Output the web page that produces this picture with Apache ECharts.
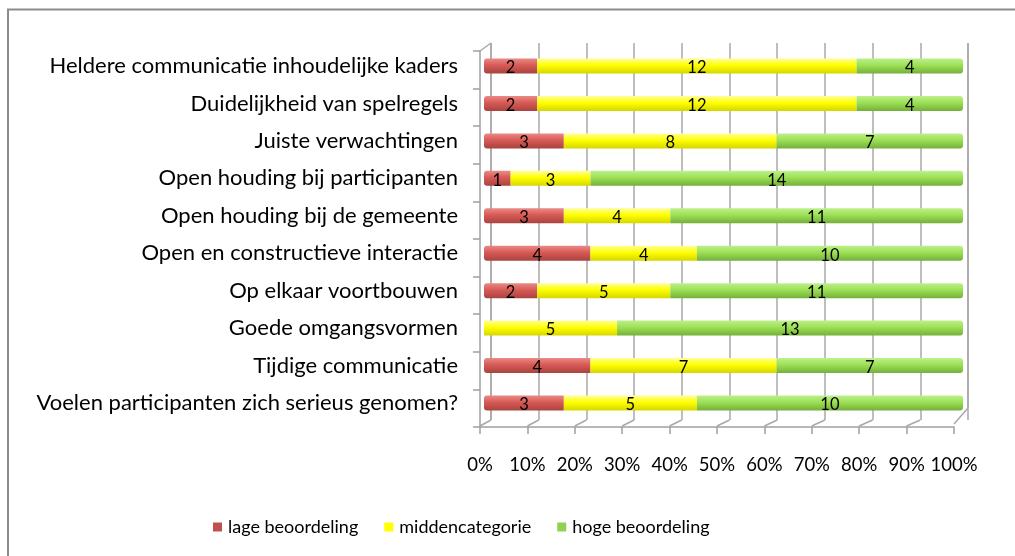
<!DOCTYPE html>
<html><head><meta charset="utf-8">
<script src="https://cdn.jsdelivr.net/npm/echarts@6/dist/echarts.min.js"></script>
<style>html,body{margin:0;padding:0;background:#fff}#c{width:1015px;height:556px}</style>
</head><body><div id="c"></div>
<script>
const categories = ["Heldere communicatie inhoudelijke kaders","Duidelijkheid van spelregels","Juiste verwachtingen","Open houding bij participanten","Open houding bij de gemeente","Open en constructieve interactie","Op elkaar voortbouwen","Goede omgangsvormen","Tijdige communicatie","Voelen participanten zich serieus genomen?"];
const lage = [2,2,3,1,3,4,2,0,4,3];
const midden = [12,12,8,3,4,4,5,5,7,5];
const hoge = [4,4,7,14,11,10,11,13,7,10];
const seriesNames = ["lage beoordeling","middencategorie","hoge beoordeling"];
const tickLabels = ["0%","10%","20%","30%","40%","50%","60%","70%","80%","90%","100%"];

const FONT = "Lato";
const raw = [lage, midden, hoge];
const totals = categories.map((_, i) => lage[i] + midden[i] + hoge[i]);
const pct = raw.map(arr => arr.map((v, i) => v / totals[i] * 100));

function grad(top, mid, bot){
  return new echarts.graphic.LinearGradient(0,0,0,1,[
    {offset:0,color:top},{offset:0.45,color:mid},{offset:1,color:bot}]);
}
const fills = [grad('#EA8A86','#D75A56','#A9433F'), grad('#FFFF9A','#FFFF00','#D6D600'), grad('#BDF08C','#9DE055','#74B03A')];
const legendColors = ['#C0504D','#FFFF00','#92D050'];

const chart = echarts.init(document.getElementById('c'), null, {renderer:'canvas'});
const option = {
  animation:false,
  textStyle:{fontFamily:FONT},
  legend:{
    data: seriesNames.map((n,k)=>({name:n, itemStyle:{color:legendColors[k]}})),
    left:208, top:513, itemWidth:9, itemHeight:9, itemGap:26, icon:'rect',
    textStyle:{fontFamily:FONT, fontSize:18, color:'#000', padding:[0,0,0,1]}
  },
  grid:[
    {left:484, right:52, top:47.3, bottom:134.3},
    {left:480, right:61, top:51, bottom:129},
    {left:491, right:47, top:43, bottom:136}
  ],
  xAxis:[
    {gridIndex:0, type:'value', min:0, max:100, show:false},
    {gridIndex:1, type:'value', min:0, max:100, interval:10,
      axisLine:{show:true, lineStyle:{color:'#A0A0A0', width:1.5}},
      axisTick:{show:true, length:7, lineStyle:{color:'#A0A0A0', width:1.5}},
      splitLine:{show:false},
      axisLabel:{fontFamily:FONT, fontSize:18.5, color:'#000', margin:29, formatter:(v)=>tickLabels[Math.round(v/10)]}},
    {gridIndex:2, type:'value', min:0, max:100, interval:10,
      axisLine:{show:false}, axisTick:{show:false}, axisLabel:{show:false},
      splitLine:{show:true, lineStyle:{color:'#A8A8A8', width:1.5}}}
  ],
  yAxis:[
    {gridIndex:0, type:'category', data:categories, inverse:true,
      axisLine:{show:false}, axisTick:{show:false},
      axisLabel:{fontFamily:FONT, fontSize:22, color:'#000', margin:26}},
    {gridIndex:1, type:'category', data:categories, inverse:true,
      axisLine:{show:true, lineStyle:{color:'#A0A0A0', width:1.5}},
      axisTick:{show:true, length:7, inside:false, lineStyle:{color:'#A0A0A0', width:1.5}},
      axisLabel:{show:false}},
    {gridIndex:2, type:'category', data:categories, inverse:true, show:false}
  ],
  series: seriesNames.map((n,k)=>({
    name:n, type:'bar', stack:'all', xAxisIndex:0, yAxisIndex:0, barWidth:15,
    data: pct[k],
    itemStyle:{color:fills[k], borderRadius: k===2 ? [0,3,3,0] : (k===0?[3,0,0,3]:0)},
    label:{show:true, position:'inside', fontFamily:FONT, fontSize:16.5, color:'#000', offset:[0,2],
      formatter:(p)=> raw[k][p.dataIndex] === 0 ? '' : String(raw[k][p.dataIndex])}
  }))
};
chart.setOption(option);

// 3D frame decoration (outer border + perspective edges)
const gB = chart.getModel().getComponent('grid',1).coordinateSystem.getRect();
const gC = chart.getModel().getComponent('grid',2).coordinateSystem.getRect();
const lineStyle = {stroke:'#A8A8A8', lineWidth:1.5};
const els = [
  {type:'rect', shape:{x:8, y:9.5, width:1100, height:700}, style:{fill:null, stroke:'#8C8C8C', lineWidth:2}},
  {type:'line', shape:{x1:gB.x, y1:gB.y, x2:gC.x, y2:gC.y}, style:lineStyle},
  {type:'line', shape:{x1:gC.x, y1:gC.y, x2:gC.x, y2:gC.y+gC.height}, style:lineStyle},
  {type:'line', shape:{x1:gC.x+gC.width, y1:gC.y, x2:gC.x+gC.width, y2:gC.y+gC.height-12}, style:lineStyle},
  {type:'line', shape:{x1:gC.x+gC.width, y1:gC.y+gC.height-12, x2:gB.x+gB.width, y2:gB.y+gB.height-3}, style:lineStyle}
];
for (let i=0;i<10;i++){
  const xf = chart.convertToPixel({xAxisIndex:1}, i*10);
  const xb = chart.convertToPixel({xAxisIndex:2}, i*10);
  els.push({type:'line', shape:{x1:xf, y1:gB.y+gB.height-1, x2:xb, y2:gC.y+gC.height}, style:lineStyle});
}
chart.setOption({graphic:{elements:els}});
</script></body></html>
